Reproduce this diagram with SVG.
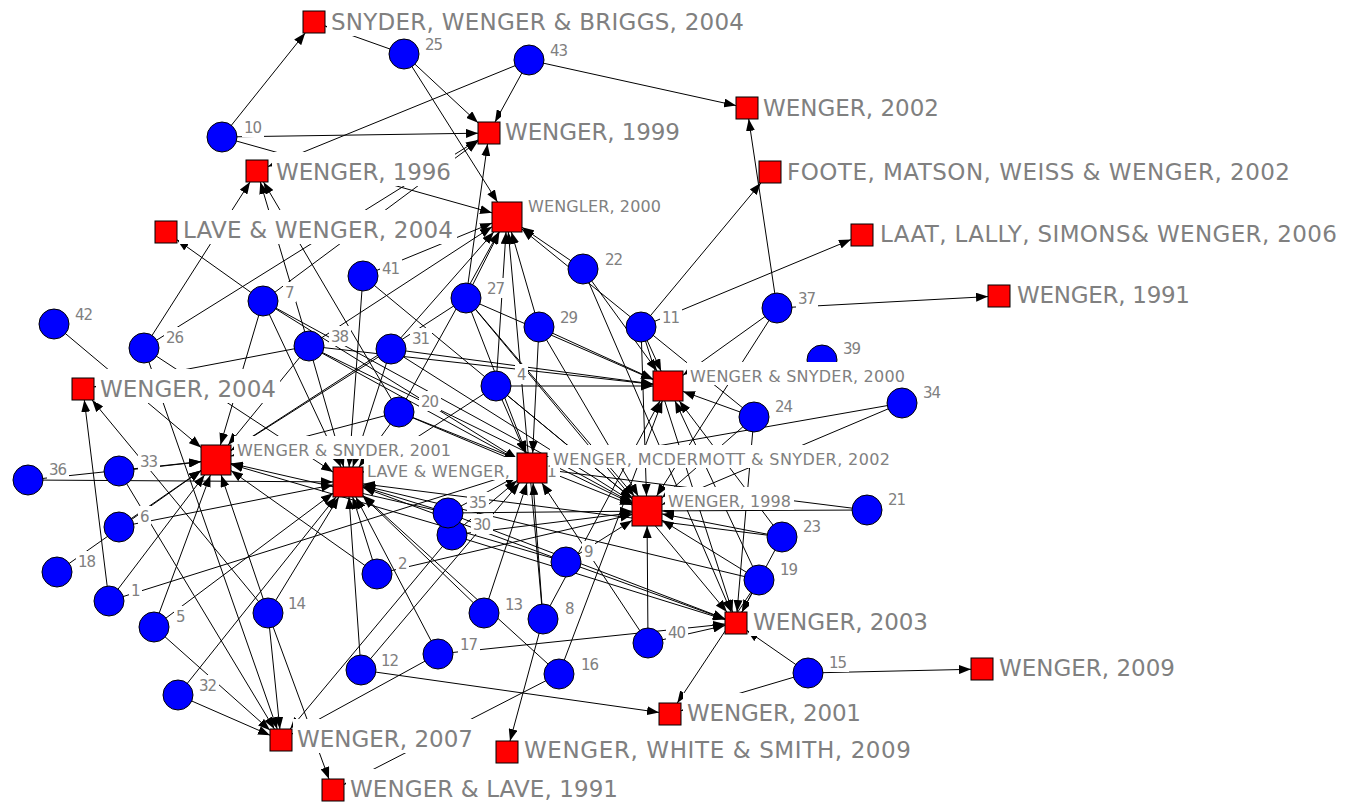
<svg xmlns="http://www.w3.org/2000/svg" width="1347" height="804" viewBox="0 0 1347 804">
<defs>
<marker id="arr" markerWidth="12" markerHeight="9" refX="12" refY="4.5" orient="auto" markerUnits="userSpaceOnUse"><path d="M0,0 L12,4.5 L0,9 z" fill="#000"/></marker>
<style>
#edges line{stroke:#000;stroke-width:1;marker-end:url(#arr)}
.c{fill:#0000ff;stroke:#000;stroke-width:1}
.s{fill:#ff0000;stroke:#000;stroke-width:1}
.bg{fill:#fff}
.lb,.lm,.ln{font-family:"DejaVu Sans",Verdana,sans-serif;fill:#808080}
.lb{font-size:23px}
.lm{font-size:16px}
.ln{font-size:15px}
</style>
</defs>
<rect width="1347" height="804" fill="#fff"/>
<g id="edges">
<line x1="222" y1="137" x2="305.2" y2="33"/>
<line x1="222" y1="137" x2="478" y2="133.2"/>
<line x1="222" y1="137" x2="492" y2="212.8"/>
<line x1="404" y1="54" x2="325" y2="25.9"/>
<line x1="404" y1="54" x2="478" y2="122.8"/>
<line x1="404" y1="54" x2="497.5" y2="202"/>
<line x1="529" y1="60" x2="495" y2="122"/>
<line x1="529" y1="60" x2="736" y2="105.6"/>
<line x1="529" y1="60" x2="268" y2="166.5"/>
<line x1="777" y1="308" x2="748.7" y2="119"/>
<line x1="777" y1="308" x2="988" y2="296.6"/>
<line x1="777" y1="308" x2="683" y2="375.3"/>
<line x1="777" y1="308" x2="656.6" y2="496"/>
<line x1="641" y1="327" x2="760.8" y2="183"/>
<line x1="641" y1="327" x2="851" y2="239.6"/>
<line x1="641" y1="327" x2="661.1" y2="371"/>
<line x1="641" y1="327" x2="646.5" y2="496"/>
<line x1="641" y1="327" x2="732.5" y2="612"/>
<line x1="583" y1="269" x2="522" y2="227.3"/>
<line x1="583" y1="269" x2="657.1" y2="371"/>
<line x1="583" y1="269" x2="731.2" y2="612"/>
<line x1="466" y1="298" x2="499.4" y2="232"/>
<line x1="466" y1="298" x2="487.5" y2="144"/>
<line x1="466" y1="298" x2="526.2" y2="453"/>
<line x1="466" y1="298" x2="634.3" y2="496"/>
<line x1="466" y1="298" x2="653" y2="379.5"/>
<line x1="466" y1="298" x2="726.9" y2="612"/>
<line x1="466" y1="298" x2="231" y2="450.3"/>
<line x1="539" y1="327" x2="511.4" y2="232"/>
<line x1="539" y1="327" x2="532.7" y2="453"/>
<line x1="539" y1="327" x2="653" y2="379.1"/>
<line x1="539" y1="327" x2="638.2" y2="496"/>
<line x1="363" y1="276" x2="492" y2="223.1"/>
<line x1="363" y1="276" x2="349.1" y2="467"/>
<line x1="363" y1="276" x2="632" y2="498.6"/>
<line x1="263" y1="301" x2="177" y2="239.8"/>
<line x1="263" y1="301" x2="478" y2="141.2"/>
<line x1="263" y1="301" x2="220.4" y2="445"/>
<line x1="263" y1="301" x2="341" y2="467"/>
<line x1="263" y1="301" x2="517" y2="458.7"/>
<line x1="263" y1="301" x2="632" y2="502.8"/>
<line x1="309" y1="346" x2="492" y2="226.8"/>
<line x1="309" y1="346" x2="260.3" y2="182"/>
<line x1="309" y1="346" x2="94" y2="386.9"/>
<line x1="309" y1="346" x2="228.2" y2="445"/>
<line x1="309" y1="346" x2="343.7" y2="467"/>
<line x1="309" y1="346" x2="517" y2="459.8"/>
<line x1="309" y1="346" x2="653" y2="384.3"/>
<line x1="309" y1="346" x2="632" y2="503.7"/>
<line x1="391" y1="349" x2="493.8" y2="232"/>
<line x1="391" y1="349" x2="231" y2="450.5"/>
<line x1="391" y1="349" x2="352.8" y2="467"/>
<line x1="391" y1="349" x2="653" y2="384"/>
<line x1="391" y1="349" x2="632" y2="501.5"/>
<line x1="399" y1="412" x2="498.7" y2="232"/>
<line x1="399" y1="412" x2="263.5" y2="182"/>
<line x1="399" y1="412" x2="231" y2="456.1"/>
<line x1="399" y1="412" x2="358.9" y2="467"/>
<line x1="399" y1="412" x2="517" y2="461.7"/>
<line x1="399" y1="412" x2="632" y2="505"/>
<line x1="496" y1="386" x2="506" y2="232"/>
<line x1="496" y1="386" x2="363" y2="472.3"/>
<line x1="496" y1="386" x2="525.4" y2="453"/>
<line x1="496" y1="386" x2="653" y2="386"/>
<line x1="496" y1="386" x2="632" y2="498.6"/>
<line x1="144" y1="348" x2="250" y2="182"/>
<line x1="144" y1="348" x2="478" y2="139.9"/>
<line x1="144" y1="348" x2="277.2" y2="729"/>
<line x1="144" y1="348" x2="333" y2="472.1"/>
<line x1="54" y1="324" x2="201" y2="447.4"/>
<line x1="28" y1="480" x2="201" y2="461.6"/>
<line x1="28" y1="480" x2="333" y2="481.9"/>
<line x1="119" y1="471" x2="201" y2="461.7"/>
<line x1="119" y1="471" x2="274.4" y2="729"/>
<line x1="119" y1="527" x2="201" y2="470.4"/>
<line x1="119" y1="527" x2="333" y2="484.9"/>
<line x1="57" y1="572" x2="201" y2="470.6"/>
<line x1="109" y1="601" x2="84.3" y2="400"/>
<line x1="109" y1="601" x2="204.6" y2="475"/>
<line x1="109" y1="601" x2="517" y2="472.7"/>
<line x1="154" y1="627" x2="210.4" y2="475"/>
<line x1="154" y1="627" x2="333" y2="493.2"/>
<line x1="154" y1="627" x2="270" y2="730.2"/>
<line x1="178" y1="695" x2="336" y2="497"/>
<line x1="178" y1="695" x2="270" y2="735.2"/>
<line x1="268" y1="613" x2="92.1" y2="400"/>
<line x1="268" y1="613" x2="221.1" y2="475"/>
<line x1="268" y1="613" x2="338.8" y2="497"/>
<line x1="268" y1="613" x2="279.9" y2="729"/>
<line x1="268" y1="613" x2="329" y2="779"/>
<line x1="361" y1="670" x2="349" y2="497"/>
<line x1="361" y1="670" x2="659" y2="712.4"/>
<line x1="361" y1="670" x2="519.3" y2="483"/>
<line x1="377" y1="574" x2="352.7" y2="497"/>
<line x1="377" y1="574" x2="632" y2="514.5"/>
<line x1="377" y1="574" x2="231" y2="470.6"/>
<line x1="438" y1="654" x2="725" y2="624.1"/>
<line x1="438" y1="654" x2="355.8" y2="497"/>
<line x1="438" y1="654" x2="292" y2="734"/>
<line x1="559" y1="674" x2="363" y2="495.6"/>
<line x1="559" y1="674" x2="344" y2="784.4"/>
<line x1="559" y1="674" x2="662.3" y2="401"/>
<line x1="484" y1="613" x2="527" y2="483"/>
<line x1="484" y1="613" x2="363" y2="496.4"/>
<line x1="543" y1="619" x2="533.1" y2="483"/>
<line x1="543" y1="619" x2="508.3" y2="232"/>
<line x1="543" y1="619" x2="660" y2="401"/>
<line x1="543" y1="619" x2="510" y2="741"/>
<line x1="566" y1="562" x2="632" y2="520.4"/>
<line x1="566" y1="562" x2="725" y2="619.1"/>
<line x1="566" y1="562" x2="363" y2="487.5"/>
<line x1="566" y1="562" x2="231" y2="464.4"/>
<line x1="648" y1="643" x2="647.1" y2="526"/>
<line x1="648" y1="643" x2="725" y2="625.5"/>
<line x1="648" y1="643" x2="541.9" y2="483"/>
<line x1="452" y1="535" x2="290.2" y2="729"/>
<line x1="452" y1="535" x2="632" y2="512.8"/>
<line x1="452" y1="535" x2="725" y2="619.6"/>
<line x1="452" y1="535" x2="517" y2="480.6"/>
<line x1="448" y1="513" x2="363" y2="486.7"/>
<line x1="448" y1="513" x2="517" y2="476"/>
<line x1="448" y1="513" x2="725" y2="618.8"/>
<line x1="448" y1="513" x2="632" y2="511.2"/>
<line x1="448" y1="513" x2="231" y2="463.4"/>
<line x1="754" y1="417" x2="522" y2="229.1"/>
<line x1="754" y1="417" x2="683" y2="391.4"/>
<line x1="754" y1="417" x2="662" y2="497.8"/>
<line x1="754" y1="417" x2="737" y2="612"/>
<line x1="902" y1="403" x2="547" y2="465.4"/>
<line x1="902" y1="403" x2="662" y2="504.6"/>
<line x1="867" y1="510" x2="547" y2="469.9"/>
<line x1="867" y1="510" x2="662" y2="510.9"/>
<line x1="782" y1="537" x2="662" y2="513.9"/>
<line x1="782" y1="537" x2="741.9" y2="612"/>
<line x1="782" y1="537" x2="679.3" y2="401"/>
<line x1="782" y1="537" x2="363" y2="483.9"/>
<line x1="759" y1="580" x2="741.9" y2="612"/>
<line x1="759" y1="580" x2="662" y2="520.2"/>
<line x1="759" y1="580" x2="675" y2="401"/>
<line x1="759" y1="580" x2="677.3" y2="703"/>
<line x1="759" y1="580" x2="363" y2="485.6"/>
<line x1="808" y1="673" x2="971" y2="669.3"/>
<line x1="808" y1="673" x2="681" y2="710.7"/>
<line x1="808" y1="673" x2="747" y2="630.6"/>
</g>
<g id="n1"><circle class="c" cx="109" cy="601" r="15"/><rect class="bg" x="129" y="580" width="13" height="20"/><text class="ln" x="131" y="596" textLength="9">1</text></g>
<g id="n2"><circle class="c" cx="377" cy="574" r="15"/><rect class="bg" x="396" y="553" width="13" height="20"/><text class="ln" x="398" y="569" textLength="9">2</text></g>
<g id="n4"><circle class="c" cx="496" cy="386" r="15"/><rect class="bg" x="515" y="364" width="13" height="20"/><text class="ln" x="517" y="380" textLength="9">4</text></g>
<g id="n5"><circle class="c" cx="154" cy="627" r="15"/><rect class="bg" x="174" y="606" width="13" height="20"/><text class="ln" x="176" y="622" textLength="9">5</text></g>
<g id="n6"><circle class="c" cx="119" cy="527" r="15"/><rect class="bg" x="138" y="506" width="13" height="20"/><text class="ln" x="140" y="522" textLength="9">6</text></g>
<g id="n7"><circle class="c" cx="263" cy="301" r="15"/><rect class="bg" x="283" y="282" width="13" height="20"/><text class="ln" x="285" y="298" textLength="9">7</text></g>
<g id="n8"><circle class="c" cx="543" cy="619" r="15"/><rect class="bg" x="563" y="598" width="13" height="20"/><text class="ln" x="565" y="614" textLength="9">8</text></g>
<g id="n9"><circle class="c" cx="566" cy="562" r="15"/><rect class="bg" x="582" y="541" width="13" height="20"/><text class="ln" x="584" y="557" textLength="9">9</text></g>
<g id="n10"><circle class="c" cx="222" cy="137" r="15"/><rect class="bg" x="242" y="117" width="22" height="20"/><text class="ln" x="244" y="133" textLength="18">10</text></g>
<g id="n11"><circle class="c" cx="641" cy="327" r="15"/><rect class="bg" x="660" y="307" width="22" height="20"/><text class="ln" x="662" y="323" textLength="18">11</text></g>
<g id="n12"><circle class="c" cx="361" cy="670" r="15"/><rect class="bg" x="379" y="650" width="22" height="20"/><text class="ln" x="381" y="666" textLength="18">12</text></g>
<g id="n13"><circle class="c" cx="484" cy="613" r="15"/><rect class="bg" x="503" y="594" width="22" height="20"/><text class="ln" x="505" y="610" textLength="18">13</text></g>
<g id="n14"><circle class="c" cx="268" cy="613" r="15"/><rect class="bg" x="286" y="593" width="22" height="20"/><text class="ln" x="288" y="609" textLength="18">14</text></g>
<g id="n15"><circle class="c" cx="808" cy="673" r="15"/><rect class="bg" x="827" y="652" width="22" height="20"/><text class="ln" x="829" y="668" textLength="18">15</text></g>
<g id="n16"><circle class="c" cx="559" cy="674" r="15"/><rect class="bg" x="579" y="654" width="22" height="20"/><text class="ln" x="581" y="670" textLength="18">16</text></g>
<g id="n17"><circle class="c" cx="438" cy="654" r="15"/><rect class="bg" x="458" y="634" width="22" height="20"/><text class="ln" x="460" y="650" textLength="18">17</text></g>
<g id="n18"><circle class="c" cx="57" cy="572" r="15"/><rect class="bg" x="76" y="551" width="22" height="20"/><text class="ln" x="78" y="567" textLength="18">18</text></g>
<g id="n19"><circle class="c" cx="759" cy="580" r="15"/><rect class="bg" x="778" y="559" width="22" height="20"/><text class="ln" x="780" y="575" textLength="18">19</text></g>
<g id="n20"><circle class="c" cx="399" cy="412" r="15"/><rect class="bg" x="419" y="391" width="22" height="20"/><text class="ln" x="421" y="407" textLength="18">20</text></g>
<g id="n21"><circle class="c" cx="867" cy="510" r="15"/><rect class="bg" x="886" y="489" width="22" height="20"/><text class="ln" x="888" y="505" textLength="18">21</text></g>
<g id="n22"><circle class="c" cx="583" cy="269" r="15"/><rect class="bg" x="603" y="249" width="22" height="20"/><text class="ln" x="605" y="265" textLength="18">22</text></g>
<g id="n23"><circle class="c" cx="782" cy="537" r="15"/><rect class="bg" x="801" y="516" width="22" height="20"/><text class="ln" x="803" y="532" textLength="18">23</text></g>
<g id="n24"><circle class="c" cx="754" cy="417" r="15"/><rect class="bg" x="773" y="396" width="22" height="20"/><text class="ln" x="775" y="412" textLength="18">24</text></g>
<g id="n25"><circle class="c" cx="404" cy="54" r="15"/><rect class="bg" x="423" y="34" width="22" height="20"/><text class="ln" x="425" y="50" textLength="18">25</text></g>
<g id="n26"><circle class="c" cx="144" cy="348" r="15"/><rect class="bg" x="164" y="327" width="22" height="20"/><text class="ln" x="166" y="343" textLength="18">26</text></g>
<g id="n27"><circle class="c" cx="466" cy="298" r="15"/><rect class="bg" x="485" y="278" width="22" height="20"/><text class="ln" x="487" y="294" textLength="18">27</text></g>
<g id="n29"><circle class="c" cx="539" cy="327" r="15"/><rect class="bg" x="558" y="307" width="22" height="20"/><text class="ln" x="560" y="323" textLength="18">29</text></g>
<g id="n30"><circle class="c" cx="452" cy="535" r="15"/><rect class="bg" x="471" y="514" width="22" height="20"/><text class="ln" x="473" y="530" textLength="18">30</text></g>
<g id="n35"><circle class="c" cx="448" cy="513" r="15"/><rect class="bg" x="467" y="492" width="22" height="20"/><text class="ln" x="469" y="508" textLength="18">35</text></g>
<g id="n31"><circle class="c" cx="391" cy="349" r="15"/><rect class="bg" x="410" y="328" width="22" height="20"/><text class="ln" x="412" y="344" textLength="18">31</text></g>
<g id="n32"><circle class="c" cx="178" cy="695" r="15"/><rect class="bg" x="197" y="675" width="22" height="20"/><text class="ln" x="199" y="691" textLength="18">32</text></g>
<g id="n33"><circle class="c" cx="119" cy="471" r="15"/><rect class="bg" x="138" y="451" width="22" height="20"/><text class="ln" x="140" y="467" textLength="18">33</text></g>
<g id="n34"><circle class="c" cx="902" cy="403" r="15"/><rect class="bg" x="921" y="382" width="22" height="20"/><text class="ln" x="923" y="398" textLength="18">34</text></g>
<g id="n36"><circle class="c" cx="28" cy="480" r="15"/><rect class="bg" x="47" y="459" width="22" height="20"/><text class="ln" x="49" y="475" textLength="18">36</text></g>
<g id="n37"><circle class="c" cx="777" cy="308" r="15"/><rect class="bg" x="796" y="288" width="22" height="20"/><text class="ln" x="798" y="304" textLength="18">37</text></g>
<g id="n38"><circle class="c" cx="309" cy="346" r="15"/><rect class="bg" x="329" y="326" width="22" height="20"/><text class="ln" x="331" y="342" textLength="18">38</text></g>
<g id="n39"><circle class="c" cx="822" cy="360" r="15"/><rect class="bg" x="841" y="338" width="22" height="20"/><text class="ln" x="843" y="354" textLength="18">39</text></g>
<g id="n40"><circle class="c" cx="648" cy="643" r="15"/><rect class="bg" x="666" y="622" width="22" height="20"/><text class="ln" x="668" y="638" textLength="18">40</text></g>
<g id="n41"><circle class="c" cx="363" cy="276" r="15"/><rect class="bg" x="380" y="258" width="22" height="20"/><text class="ln" x="382" y="274" textLength="18">41</text></g>
<g id="n42"><circle class="c" cx="54" cy="324" r="15"/><rect class="bg" x="73" y="304" width="22" height="20"/><text class="ln" x="75" y="320" textLength="18">42</text></g>
<g id="n43"><circle class="c" cx="529" cy="60" r="15"/><rect class="bg" x="548" y="40" width="22" height="20"/><text class="ln" x="550" y="56" textLength="18">43</text></g>
<g id="p-snyder-wenger-briggs-2004"><rect class="s" x="303" y="11" width="22" height="22"/><rect class="bg" x="327" y="2" width="421" height="34"/><text class="lb" x="331" y="30" textLength="413">SNYDER, WENGER &amp; BRIGGS, 2004</text></g>
<g id="p-wenger-1999"><rect class="s" x="478" y="122" width="22" height="22"/><rect class="bg" x="501" y="112" width="183" height="34"/><text class="lb" x="505" y="140" textLength="175">WENGER, 1999</text></g>
<g id="p-wenger-2002"><rect class="s" x="736" y="97" width="22" height="22"/><rect class="bg" x="759" y="88" width="184" height="34"/><text class="lb" x="763" y="116" textLength="176">WENGER, 2002</text></g>
<g id="p-foote-2002"><rect class="s" x="759" y="161" width="22" height="22"/><rect class="bg" x="783" y="152" width="511" height="34"/><text class="lb" x="787" y="180" textLength="503">FOOTE, MATSON, WEISS &amp; WENGER, 2002</text></g>
<g id="p-laat-2006"><rect class="s" x="851" y="224" width="22" height="22"/><rect class="bg" x="876" y="214" width="465" height="34"/><text class="lb" x="880" y="242" textLength="457">LAAT, LALLY, SIMONS&amp; WENGER, 2006</text></g>
<g id="p-wenger-1991"><rect class="s" x="988" y="285" width="22" height="22"/><rect class="bg" x="1013" y="275" width="181" height="34"/><text class="lb" x="1017" y="303" textLength="173">WENGER, 1991</text></g>
<g id="p-wenger-1996"><rect class="s" x="246" y="160" width="22" height="22"/><rect class="bg" x="272" y="152" width="183" height="34"/><text class="lb" x="276" y="180" textLength="175">WENGER, 1996</text></g>
<g id="p-lave-wenger-2004"><rect class="s" x="155" y="221" width="22" height="22"/><rect class="bg" x="179" y="210" width="278" height="34"/><text class="lb" x="183" y="238" textLength="270">LAVE &amp; WENGER, 2004</text></g>
<g id="p-wenger-2004"><rect class="s" x="72" y="378" width="22" height="22"/><rect class="bg" x="96" y="369" width="184" height="34"/><text class="lb" x="100" y="397" textLength="176">WENGER, 2004</text></g>
<g id="p-wenger-2003"><rect class="s" x="725" y="612" width="22" height="22"/><rect class="bg" x="749" y="602" width="183" height="34"/><text class="lb" x="753" y="630" textLength="175">WENGER, 2003</text></g>
<g id="p-wenger-2009"><rect class="s" x="971" y="658" width="22" height="22"/><rect class="bg" x="995" y="648" width="184" height="34"/><text class="lb" x="999" y="676" textLength="176">WENGER, 2009</text></g>
<g id="p-wenger-2001"><rect class="s" x="659" y="703" width="22" height="22"/><rect class="bg" x="683" y="693" width="182" height="34"/><text class="lb" x="687" y="721" textLength="174">WENGER, 2001</text></g>
<g id="p-wenger-white-smith-2009"><rect class="s" x="496" y="741" width="22" height="22"/><rect class="bg" x="520" y="730" width="395" height="34"/><text class="lb" x="524" y="758" textLength="387">WENGER, WHITE &amp; SMITH, 2009</text></g>
<g id="p-wenger-2007"><rect class="s" x="270" y="729" width="22" height="22"/><rect class="bg" x="293" y="719" width="184" height="34"/><text class="lb" x="297" y="747" textLength="176">WENGER, 2007</text></g>
<g id="p-wenger-lave-1991"><rect class="s" x="322" y="779" width="22" height="22"/><rect class="bg" x="346" y="769" width="276" height="34"/><text class="lb" x="350" y="797" textLength="268">WENGER &amp; LAVE, 1991</text></g>
<g id="p-wengler-2000"><rect class="s" x="492" y="202" width="30" height="30"/><rect class="bg" x="525" y="192" width="139" height="23"/><text class="lm" x="528" y="212" textLength="133">WENGLER, 2000</text></g>
<g id="p-wenger-snyder-2001"><rect class="s" x="201" y="445" width="30" height="30"/><rect class="bg" x="234" y="436" width="220" height="23"/><text class="lm" x="237" y="456" textLength="214">WENGER &amp; SNYDER, 2001</text></g>
<g id="p-lave-wenger-1991"><rect class="s" x="333" y="467" width="30" height="30"/><rect class="bg" x="364" y="457" width="196" height="23"/><text class="lm" x="367" y="477" textLength="190">LAVE &amp; WENGER, 1991</text></g>
<g id="p-wenger-mcdermott-snyder-2002"><rect class="s" x="517" y="453" width="30" height="30"/><rect class="bg" x="550" y="445" width="343" height="23"/><text class="lm" x="553" y="465" textLength="337">WENGER, MCDERMOTT &amp; SNYDER, 2002</text></g>
<g id="p-wenger-snyder-2000"><rect class="s" x="653" y="371" width="30" height="30"/><rect class="bg" x="687" y="362" width="221" height="23"/><text class="lm" x="690" y="382" textLength="215">WENGER &amp; SNYDER, 2000</text></g>
<g id="p-wenger-1998"><rect class="s" x="632" y="496" width="30" height="30"/><rect class="bg" x="665" y="487" width="129" height="23"/><text class="lm" x="668" y="507" textLength="123">WENGER, 1998</text></g>
</svg>
